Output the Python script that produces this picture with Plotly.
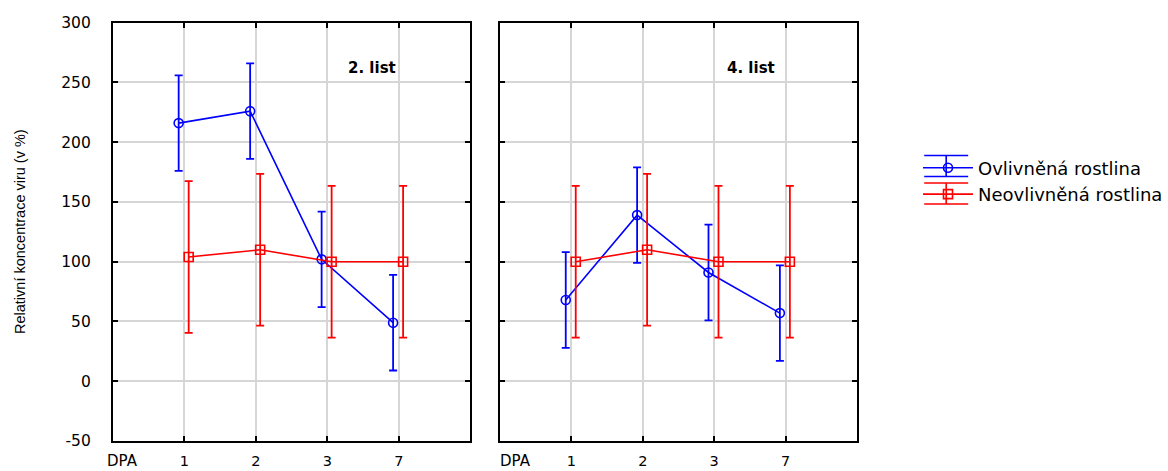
import plotly.graph_objects as go

# ---- data ----
dpa_labels = ["1", "2", "3", "7"]
panel_titles = ["2. list", "4. list"]
series_names = ["Ovlivněná rostlina", "Neovlivněná rostlina"]

blue_list2 = [216, 226, 102, 49]
blue_list2_err = [40, 40, 40, 40]
red_list2 = [104, 110, 100, 100]
red_list2_err = [63.5, 63.5, 63.5, 63.5]

blue_list4 = [68, 139, 91, 57]
blue_list4_err = [40, 40, 40, 40]
red_list4 = [100, 110, 100, 100]
red_list4_err = [63.5, 63.5, 63.5, 63.5]

y_ticks = [-50, 0, 50, 100, 150, 200, 250, 300]
y_tick_labels = [str(v) for v in y_ticks]

# ---- style ----
BLUE = "#0000ff"
RED = "#ff0000"
FONT = "DejaVu Sans, Verdana, sans-serif"
FONT_NARROW = "Liberation Sans, Arial, sans-serif"
W, H = 1168, 471
OFF_BLUE, OFF_RED = -0.08, 0.06

def px_x(p):
    return p / W

def px_y(p):
    return 1 - p / H

fig = go.Figure()

cat_pos = list(range(1, len(dpa_labels) + 1))
panels = [
    ("x", "y", blue_list2, blue_list2_err, red_list2, red_list2_err),
    ("x2", "y2", blue_list4, blue_list4_err, red_list4, red_list4_err),
]
for k, (xa, ya, bv, be, rv, re) in enumerate(panels):
    fig.add_trace(go.Scatter(
        x=[c + OFF_BLUE for c in cat_pos], y=bv, xaxis=xa, yaxis=ya,
        mode="lines+markers", name=series_names[0], showlegend=(k == 0),
        line=dict(color=BLUE, width=1.6),
        marker=dict(symbol="circle-open", size=9, color=BLUE, line=dict(width=1.6)),
        error_y=dict(type="data", array=be, visible=True, color=BLUE, thickness=1.8, width=4),
        legendgroup="b",
    ))
    fig.add_trace(go.Scatter(
        x=[c + OFF_RED for c in cat_pos], y=rv, xaxis=xa, yaxis=ya,
        mode="lines+markers", name=series_names[1], showlegend=(k == 0),
        line=dict(color=RED, width=1.6),
        marker=dict(symbol="square-open", size=9, color=RED, line=dict(width=1.6)),
        error_y=dict(type="data", array=re, visible=True, color=RED, thickness=1.8, width=4),
        legendgroup="r",
    ))

xaxis_common = dict(
    range=[0, len(dpa_labels) + 1], tickmode="array", tickvals=cat_pos, ticktext=dpa_labels,
    showgrid=True, gridcolor="#d6d6d6", gridwidth=1.5, zeroline=False,
    showline=True, linecolor="black", linewidth=2, mirror="allticks",
    ticks="inside", ticklen=5, tickwidth=1.5, tickcolor="black",
    tickfont=dict(family=FONT, size=14.5, color="black"), ticklabelstandoff=6,
    automargin=False,
)
yaxis_common = dict(
    range=[-50, 300], tickmode="array", tickvals=y_ticks, ticktext=y_tick_labels,
    showgrid=True, gridcolor="#d6d6d6", gridwidth=1.5, zeroline=False,
    showline=True, linecolor="black", linewidth=2, mirror="allticks",
    ticks="inside", ticklen=5, tickwidth=1.5, tickcolor="black",
    tickfont=dict(family=FONT, size=15.5, color="black"),
    domain=[px_y(441), px_y(22.7)], automargin=False,
)

fig.update_layout(
    width=W, height=H,
    margin=dict(l=0, r=0, t=0, b=0),
    plot_bgcolor="white", paper_bgcolor="white",
    xaxis=dict(**xaxis_common, domain=[px_x(113), px_x(470.7)], anchor="y"),
    xaxis2=dict(**xaxis_common, domain=[px_x(500.5), px_x(857.7)], anchor="y2"),
    yaxis=dict(**yaxis_common, anchor="x", ticklabelstandoff=17),
    yaxis2=dict(**yaxis_common, anchor="x2", showticklabels=False),
    showlegend=True,
    legend=dict(
        x=px_x(919), y=px_y(149.5), xanchor="left", yanchor="top",
        font=dict(family=FONT, size=18, color="black"),
        bgcolor="rgba(0,0,0,0)", itemwidth=50, tracegroupgap=0,
    ),
    font=dict(family=FONT, color="black"),
)

def ann(x, y, text, font, size, angle=0):
    return dict(x=px_x(x), y=px_y(y), xref="paper", yref="paper", text=text,
                xanchor="center", yanchor="middle", textangle=angle, showarrow=False,
                font=dict(family=font, size=size, color="black"))

annotations = [
    ann(20, 231, "Relativní koncentrace viru (v %)", FONT_NARROW, 14.5, -90),
    ann(123, 461, "DPA", FONT, 15),
    ann(516, 461, "DPA", FONT, 15),
    ann(372, 68, "<b>" + panel_titles[0] + "</b>", FONT, 15),
    ann(752, 68, "<b>" + panel_titles[1] + "</b>", FONT, 15),
]
fig.update_layout(annotations=annotations)

# error-bar style caps for the legend symbols
shapes = []
for yc, col in [(166, BLUE), (193.5, RED)]:
    for dy in (-10.5, 10.5):
        shapes.append(dict(type="line", xref="paper", yref="paper",
                           x0=px_x(925), x1=px_x(969), y0=px_y(yc + dy), y1=px_y(yc + dy),
                           line=dict(color=col, width=1.6)))
    shapes.append(dict(type="line", xref="paper", yref="paper",
                       x0=px_x(947), x1=px_x(947), y0=px_y(yc - 10.5), y1=px_y(yc + 10.5),
                       line=dict(color=col, width=1.6)))
fig.update_layout(shapes=shapes)

fig.write_html(
    "out.html",
    config={"displayModeBar": False},
    post_script="document.body.style.margin='0px';document.body.style.overflow='hidden';",
)
